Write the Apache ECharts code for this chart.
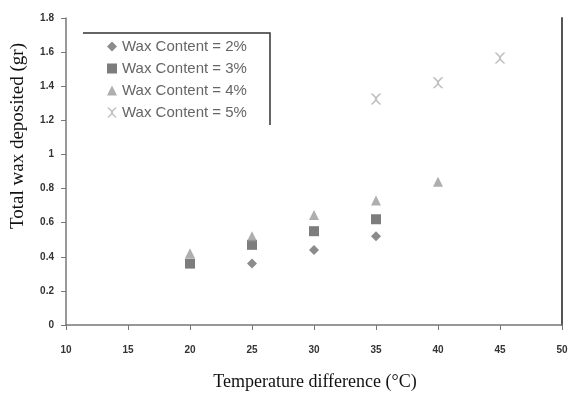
<!DOCTYPE html>
<html>
<head>
<meta charset="utf-8">
<script src="https://cdn.jsdelivr.net/npm/echarts@6/dist/echarts.min.js"></script>
<style>
  html, body { margin: 0; padding: 0; background: #fff; }
  #chart { width: 571px; height: 394px; }
</style>
</head>
<body>
<div id="chart"></div>
<script>
// Temperature difference (°C) at which each wax content was tested
const wax2x = [25, 30, 35];
const wax2y = [0.36, 0.44, 0.52];
const wax3x = [20, 25, 30, 35];
const wax3y = [0.36, 0.47, 0.55, 0.62];
const wax4x = [20, 25, 30, 35, 40];
const wax4y = [0.42, 0.52, 0.645, 0.73, 0.84];
const wax5x = [35, 40, 45];
const wax5y = [1.325, 1.42, 1.565];

const seriesNames = ['Wax Content = 2%', 'Wax Content = 3%', 'Wax Content = 4%', 'Wax Content = 5%'];
const xTitle = 'Temperature difference (°C)';
const yTitle = 'Total wax deposited (gr)';

// Cross-shaped marker path for the 5% series
const crossPath = 'path://M0,0 L2,0 L5,3 L8,0 L10,0 L6,4 L6,6 L10,10 L8,10 L5,7 L2,10 L0,10 L4,6 L4,4 Z';

function pairs(xs, ys) { return xs.map((x, i) => [x, ys[i]]); }

const chart = echarts.init(document.getElementById('chart'), null, { renderer: 'canvas' });

const tickLabel = { fontSize: 10, color: '#333', fontWeight: 'bold', fontFamily: 'Liberation Sans, Arial, sans-serif' };
const titleFamily = 'Liberation Serif, Times New Roman, serif';

chart.setOption({
  backgroundColor: '#fff',
  animation: false,
  grid: { left: 66, right: 9, top: 18, bottom: 69 },
  xAxis: {
    type: 'value', min: 10, max: 50, interval: 5,
    axisLine: { show: true, lineStyle: { color: '#777', width: 1.5 } },
    axisTick: { show: true, length: 5, lineStyle: { color: '#777' } },
    axisLabel: Object.assign({ margin: 20 }, tickLabel),
    splitLine: { show: false }
  },
  yAxis: [{
    type: 'value', min: 0, max: 1.8, interval: 0.2,
    axisLine: { show: true, lineStyle: { color: '#777', width: 1.5 } },
    axisTick: { show: true, length: 5, lineStyle: { color: '#777' } },
    axisLabel: Object.assign({ margin: 12 }, tickLabel),
    splitLine: { show: false }
  }, {
    type: 'value', min: 0, max: 1.8, interval: 0.2, position: 'right',
    axisLine: { show: true, lineStyle: { color: '#555', width: 2 } },
    axisTick: { show: false }, axisLabel: { show: false }, splitLine: { show: false }
  }],
  legend: {
    orient: 'vertical', left: 102, top: 34, itemGap: 7,
    itemWidth: 10, itemHeight: 10,
    textStyle: { fontSize: 15, color: '#666', fontFamily: 'Liberation Sans, Arial, sans-serif' },
    data: seriesNames
  },
  graphic: [{
    // legend frame: top and right edges
    type: 'polyline',
    shape: { points: [[83, 33], [270, 33], [270, 125]] },
    style: { stroke: '#333', lineWidth: 1.5, fill: null }
  }, {
    type: 'text', x: 315, y: 382,
    style: { text: xTitle, font: '18px ' + titleFamily, fill: '#111', align: 'center', verticalAlign: 'middle' }
  }, {
    type: 'text', x: 18, y: 136, rotation: Math.PI / 2,
    style: { text: yTitle, font: '19px ' + titleFamily, fill: '#111', align: 'center', verticalAlign: 'middle' }
  }],
  series: [
    { name: seriesNames[0], type: 'scatter', symbol: 'diamond', symbolSize: 10,
      itemStyle: { color: '#6e6e6e' }, data: pairs(wax2x, wax2y) },
    { name: seriesNames[1], type: 'scatter', symbol: 'rect', symbolSize: 10,
      itemStyle: { color: '#5c5c5c' }, data: pairs(wax3x, wax3y) },
    { name: seriesNames[2], type: 'scatter', symbol: 'triangle', symbolSize: 10,
      itemStyle: { color: '#9a9a9a' }, data: pairs(wax4x, wax4y) },
    { name: seriesNames[3], type: 'scatter', symbol: crossPath, symbolSize: 11,
      itemStyle: { color: '#b0b0b0' }, data: pairs(wax5x, wax5y) }
  ]
});
</script>
</body>
</html>
